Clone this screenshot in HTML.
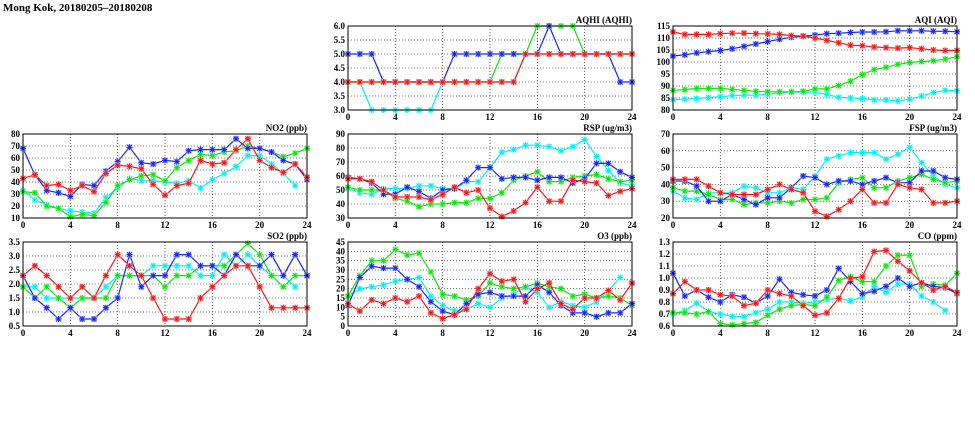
<!DOCTYPE html>
<html><head><meta charset="utf-8">
<style>
html,body{margin:0;padding:0;background:#fff;}
svg{display:block;font-family:"Liberation Serif",serif;}
</style></head>
<body>
<svg id="chart" width="975" height="447" viewBox="0 0 975 447">
<text x="3" y="11" font-size="11" font-weight="bold">Mong Kok, 20180205–20180208</text>
</svg>
<script>
const hours = [0,1,2,3,4,5,6,7,8,9,10,11,12,13,14,15,16,17,18,19,20,21,22,23,24];
const xTicks = [0,4,8,12,16,20,24];
const seriesNames = ["cyan","green","blue","red"];
const N = null;

const aqhiTitle = "AQHI (AQHI)";
const aqhiTicks = [3.0,3.5,4.0,4.5,5.0,5.5,6.0];
const aqhiCyan  = [4,4,3,3,3,3,3,3,4,4,4,4,4,4,4,5,5,5,5,5,5,5,5,5,5];
const aqhiGreen = [4,4,4,4,4,4,4,4,4,4,4,4,4,5,5,5,6,6,6,6,5,5,5,5,5];
const aqhiBlue  = [5,5,5,4,4,4,4,4,4,5,5,5,5,5,5,5,5,6,5,5,5,5,5,4,4];
const aqhiRed   = [4,4,4,4,4,4,4,4,4,4,4,4,4,4,4,5,5,5,5,5,5,5,5,5,5];

const aqiTitle = "AQI (AQI)";
const aqiTicks = [80,85,90,95,100,105,110,115];
const aqiCyan  = [84.3,84.5,84.8,85.2,85.5,86,86.2,86.2,86.5,87.2,87.5,87.5,87.5,86.5,85.3,85,84.8,84.2,84.2,83.8,84.5,85.8,87.3,88.2,88];
const aqiGreen = [88.2,88.5,89,89,89,88.6,88.2,87.8,87.6,87.6,87.6,87.8,88.8,88.8,90.2,92,94.8,96.8,97.8,99,99.8,100.2,100.5,101.2,102.2];
const aqiBlue  = [102.5,103,103.8,104.3,104.8,105.5,106.5,107.5,108.5,109.5,110.3,110.8,111.2,111.8,112,112.3,112.5,112.5,112.6,113,113,113,112.8,112.8,112.6];
const aqiRed   = [112.5,111.5,111.5,111.5,111.8,112,112,111.8,111.7,111.5,111,110.8,110,109,108,107,106.8,106.3,106,105.8,106,105.5,105,104.8,104.8];

const no2Title = "NO2 (ppb)";
const no2Ticks = [10,20,30,40,50,60,70,80];
const no2Cyan  = [33,25,21,18,16,15,14,27,35,43,41,41,40,39,41,35,42,47,53,62,62,55,47,37,N];
const no2Green = [32,31,20,18,11,13,12,23,37,42,45,46,41,52,58,63,62,65,66,70,68,65,61,64,68];
const no2Blue  = [68,46,33,31,28,38,37,49,57,69,56,55,58,57,66,67,67,67,76,68,68,65,58,55,42];
const no2Red   = [43,46,37,38,33,37,32,47,54,53,51,38,29,37,39,58,55,56,67,76,58,52,48,55,44];

const rspTitle = "RSP (ug/m3)";
const rspTicks = [30,40,50,60,70,80,90];
const rspCyan  = [51,48,47,51,51,51,53,53,51,51,56,56,66,77,79,82,82,81,78,81,86,74,64,55,53];
const rspGreen = [52,50,50,50,44,42,38,40,40,41,41,44,44,48,57,60,63,56,56,59,60,61,58,56,57];
const rspBlue  = [59,58,55,47,47,52,49,44,50,51,57,66,66,58,59,59,57,59,59,55,58,69,69,63,59];
const rspRed   = [58,58,56,50,45,45,45,43,47,52,48,50,37,31,35,41,52,42,42,57,56,55,46,49,51];

const fspTitle = "FSP (ug/m3)";
const fspTicks = [20,30,40,50,60,70];
const fspCyan  = [36,32,31,35,35,35,39,38,35,35,38,37,45,55,57,59,59,59,55,58,62,53,45,40,38];
const fspGreen = [38,36,36,34,31,31,28,29,29,30,29,31,31,32,41,43,44,38,38,42,44,46,43,41,42];
const fspBlue  = [42,42,39,30,30,34,31,28,32,32,38,45,44,40,42,42,40,42,44,41,41,48,48,44,43];
const fspRed   = [43,43,43,39,35,34,34,34,37,40,37,35,24,21,25,30,37,29,29,40,38,37,29,29,30];

const so2Title = "SO2 (ppb)";
const so2Ticks = [0.5,1.0,1.5,2.0,2.5,3.0,3.5];
const so2Cyan  = [1.9,1.9,1.5,1.5,1.5,1.5,1.5,1.9,2.3,2.3,2.3,2.65,2.65,2.65,2.65,2.3,2.3,3.05,2.65,3.05,2.65,2.3,2.3,1.9,N];
const so2Green = [1.9,1.5,1.9,1.5,1.15,1.5,1.5,1.5,2.3,2.3,2.3,2.3,1.9,2.3,2.3,2.65,2.65,2.65,3.05,3.45,3.05,2.3,1.9,2.3,2.3];
const so2Blue  = [2.3,1.5,1.15,0.75,1.15,0.75,0.75,1.15,1.5,3.05,1.9,2.3,2.3,3.05,3.05,2.65,2.65,2.3,3.05,2.65,2.65,3.05,2.3,3.05,2.3];
const so2Red   = [2.3,2.65,2.3,1.9,1.5,1.9,1.5,2.3,3.05,2.65,2.3,1.5,0.75,0.75,0.75,1.5,1.9,2.3,2.65,2.65,1.9,1.15,1.15,1.15,1.15];

const o3Title = "O3 (ppb)";
const o3Ticks = [0,5,10,15,20,25,30,35,40,45];
const o3Cyan  = [16,20,21,22,24,25,26,16,11,8,9,12,10,15,17,21,18,10,13,11,10,13,19,26,N];
const o3Green = [16,27,35,35,41,38,39,29,17,16,14,16,23,21,20,21,23,21,20,16,17,15,16,15,11];
const o3Blue  = [11,26,32,31,31,25,21,13,8,6,12,17,18,16,16,16,22,18,11,7,7,5,7,7,12];
const o3Red   = [12,8,14,12,15,13,16,7,4,6,9,20,28,24,25,13,20,23,12,9,15,15,19,14,23];

const coTitle = "CO (ppm)";
const coTicks = [0.6,0.7,0.8,0.9,1.0,1.1,1.2,1.3];
const coCyan  = [0.7,0.73,0.79,0.72,0.7,0.68,0.68,0.71,0.74,0.8,0.8,0.79,0.8,0.82,0.83,0.81,0.84,0.93,0.88,0.95,0.95,0.85,0.8,0.73,N];
const coGreen = [0.71,0.71,0.7,0.72,0.62,0.61,0.62,0.63,0.69,0.74,0.77,0.78,0.77,0.84,0.98,1.01,0.97,0.97,1.1,1.19,1.19,0.93,0.95,0.94,1.04];
const coBlue  = [1.04,0.85,0.9,0.84,0.8,0.86,0.84,0.79,0.85,0.99,0.88,0.86,0.85,0.9,1.08,0.97,0.87,0.89,0.93,1.0,0.93,0.96,0.93,0.92,0.87];
const coRed   = [0.87,0.97,0.9,0.9,0.86,0.85,0.77,0.79,0.9,0.87,0.85,0.77,0.69,0.71,0.83,1.0,1.01,1.22,1.23,1.14,1.06,0.96,0.9,0.93,0.88];

const colors = {cyan:"#00f0f0", green:"#10e010", blue:"#1428f0", red:"#f01818"};
const halo = {cyan:"#b0ffff", green:"#b0ffb0", blue:"#b8b8ff", red:"#ffb0b0"};
const NS = "http://www.w3.org/2000/svg";
const svg = document.getElementById("chart");

function mk(tag, attrs, parent) {
  const e = document.createElementNS(NS, tag);
  for (const k in attrs) e.setAttribute(k, attrs[k]);
  parent.appendChild(e);
  return e;
}

function panel(key, title, ticks, series, px, py) {
  const W = 284, H = 84;
  const g = mk("g", {}, svg);
  
  
  const ymin = ticks[0], ymax = ticks[ticks.length - 1];
  const xs = h => px + h / 24 * W;
  const ys = v => py + H - (v - ymin) / (ymax - ymin) * H;
  // grid
  ticks.forEach((t, i) => {
    if (i > 0 && i < ticks.length - 1) {
      const l = mk("line", {x1:px, x2:px+W, y1:ys(t), y2:ys(t), stroke:"#555", "stroke-width":0.8, "stroke-dasharray":"1,2"}, g);
      
      
    }
    const tx = mk("text", {x:px-3, y:ys(t)+3, "font-size":9, "font-weight":"bold", "text-anchor":"end"}, g);
    
    
    tx.textContent = (ymax < 10 && ticks.some(v => v % 1 !== 0)) ? t.toFixed(1) : String(t);
  });
  xTicks.forEach((t, i) => {
    if (i > 0 && i < xTicks.length - 1) {
      const l = mk("line", {x1:xs(t), x2:xs(t), y1:py, y2:py+H, stroke:"#333", "stroke-width":0.8, "stroke-dasharray":"1,2"}, g);
      
      
    }
    const tx = mk("text", {x:xs(t), y:py+H+10, "font-size":9, "font-weight":"bold", "text-anchor":"middle"}, g);
    
    
    tx.textContent = String(t);
  });
  // series
  series.forEach((vals, si) => {
    const name = seriesNames[si];
    const sg = mk("g", {}, g);
    
    
    let d = "", pen = false;
    vals.forEach((v, i) => {
      if (v === null) { pen = false; return; }
      d += (pen ? "L" : "M") + xs(hours[i]).toFixed(1) + " " + ys(v).toFixed(1);
      pen = true;
    });
    const p = mk("path", {d:d, fill:"none", stroke:colors[name], "stroke-width":1.2}, sg);
    
    
    vals.forEach((v, i) => {
      if (v === null) return;
      const cx = xs(hours[i]), cy = ys(v);
      const m = mk("g", {}, sg);
      
      
      mk("rect", {x:cx-3, y:cy-3, width:6, height:6, fill:halo[name], opacity:0.8}, m);
      mk("path", {d:`M${cx-3} ${cy}H${cx+3}M${cx} ${cy-3}V${cy+3}M${cx-2.3} ${cy-2.3}L${cx+2.3} ${cy+2.3}M${cx-2.3} ${cy+2.3}L${cx+2.3} ${cy-2.3}`, stroke:colors[name], "stroke-width":1}, m);
    });
  });
  const fr = mk("rect", {x:px, y:py, width:W, height:H, fill:"none", stroke:"#000", "stroke-width":1}, g);
  
  
  const tt = mk("text", {x:px+W, y:py-3, "font-size":9, "font-weight":"bold", "text-anchor":"end"}, g);
  
  
  tt.textContent = title;
}

const C = [23, 348, 673], R = [26, 134, 242];
panel("aqhi", aqhiTitle, aqhiTicks, [aqhiCyan, aqhiGreen, aqhiBlue, aqhiRed], C[1], R[0]);
panel("aqi", aqiTitle, aqiTicks, [aqiCyan, aqiGreen, aqiBlue, aqiRed], C[2], R[0]);
panel("no2", no2Title, no2Ticks, [no2Cyan, no2Green, no2Blue, no2Red], C[0], R[1]);
panel("rsp", rspTitle, rspTicks, [rspCyan, rspGreen, rspBlue, rspRed], C[1], R[1]);
panel("fsp", fspTitle, fspTicks, [fspCyan, fspGreen, fspBlue, fspRed], C[2], R[1]);
panel("so2", so2Title, so2Ticks, [so2Cyan, so2Green, so2Blue, so2Red], C[0], R[2]);
panel("o3", o3Title, o3Ticks, [o3Cyan, o3Green, o3Blue, o3Red], C[1], R[2]);
panel("co", coTitle, coTicks, [coCyan, coGreen, coBlue, coRed], C[2], R[2]);
</script>
</body></html>
